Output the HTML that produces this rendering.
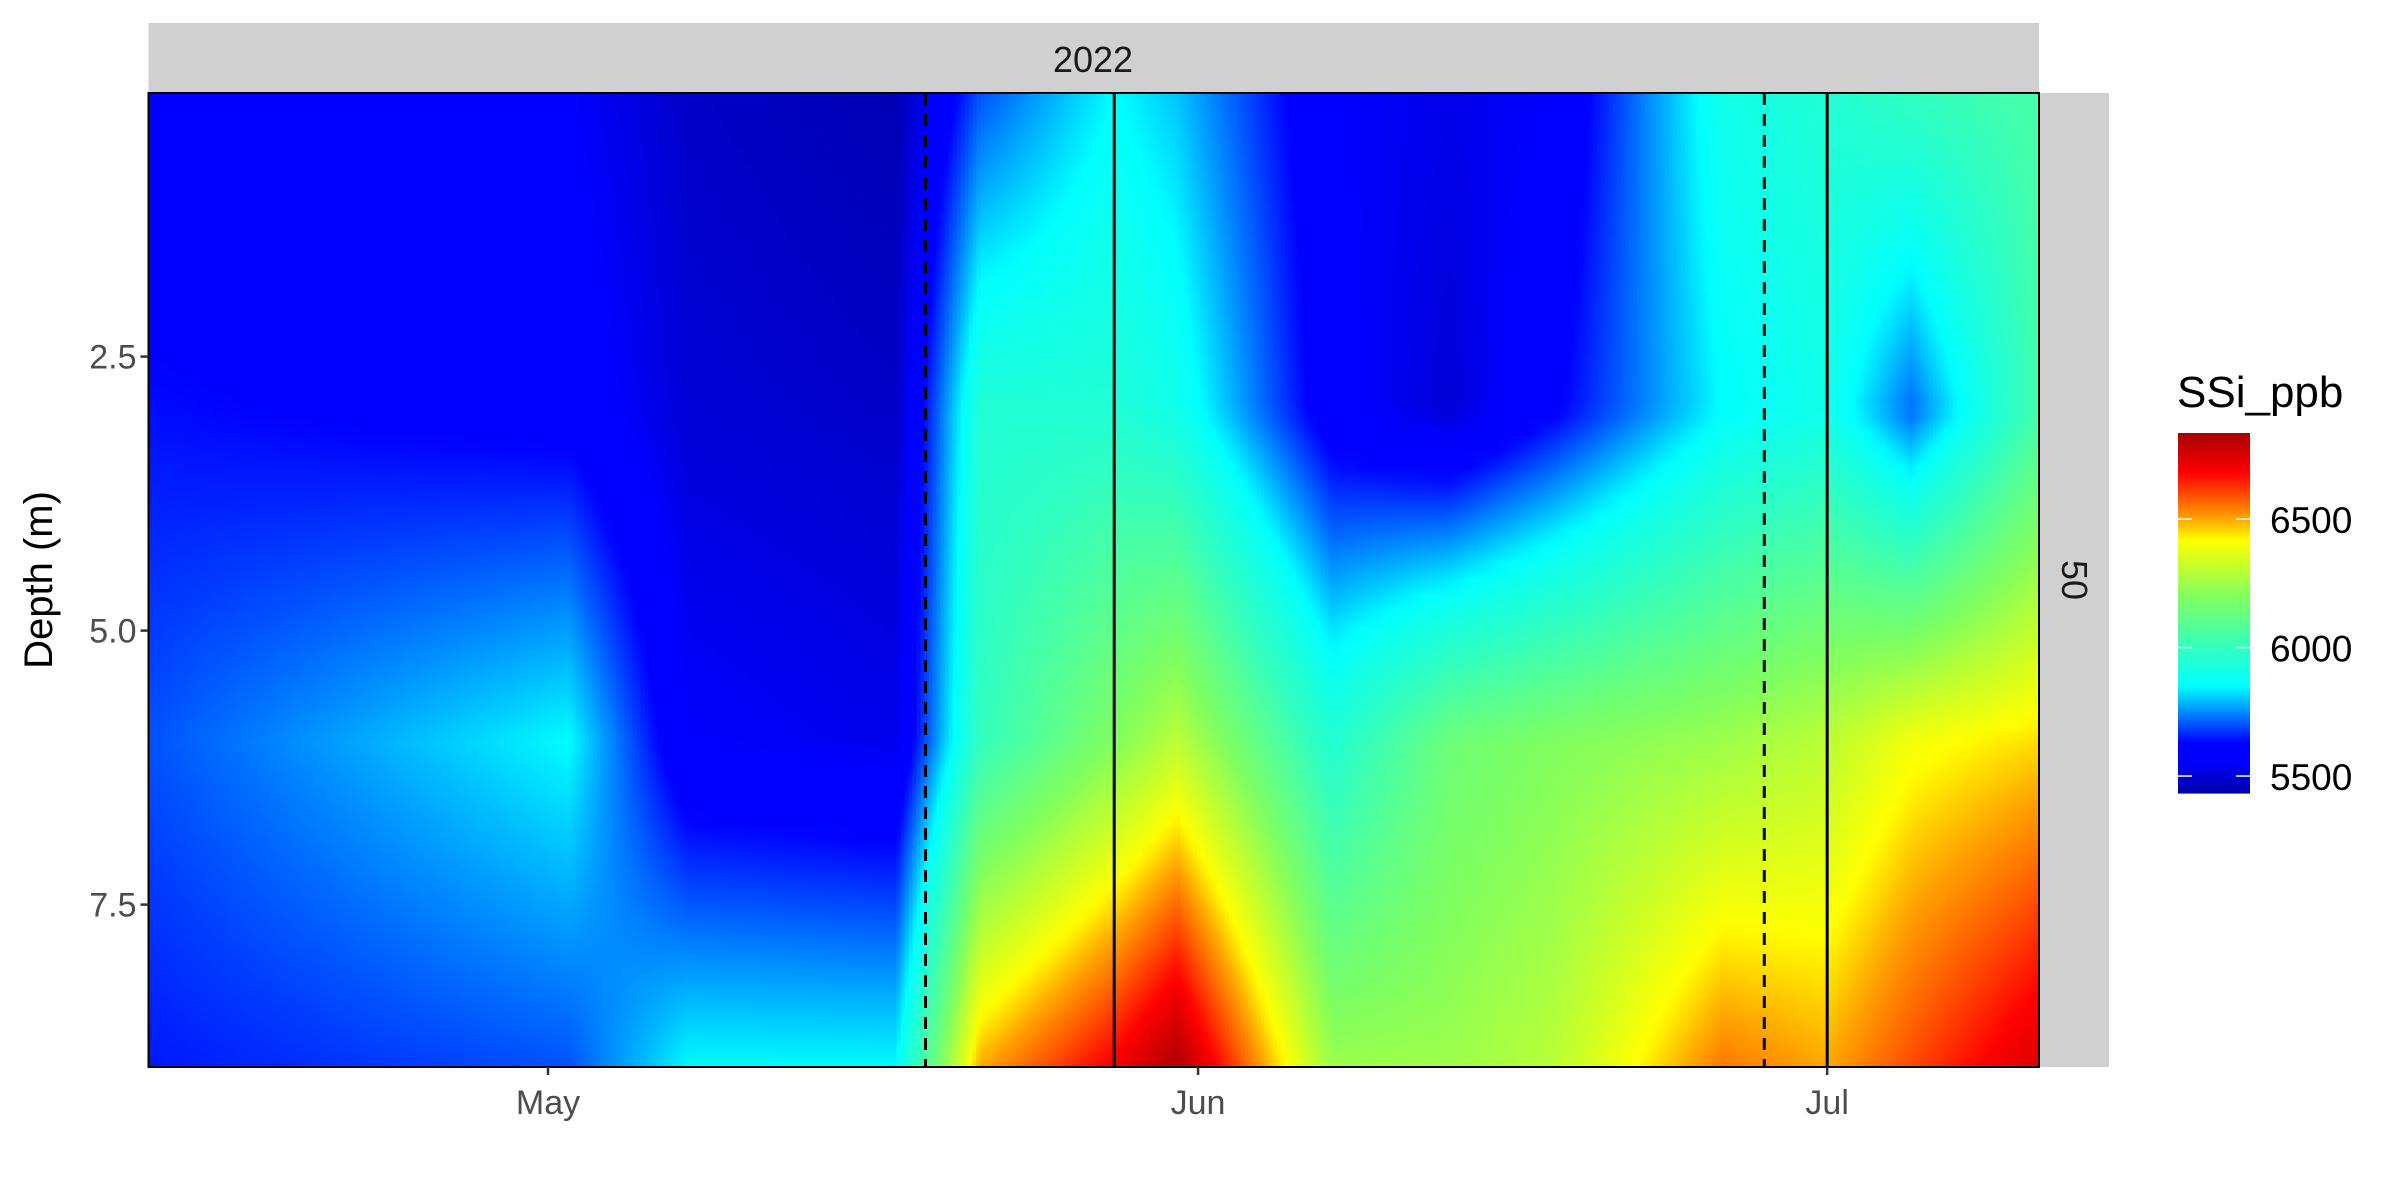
<!DOCTYPE html>
<html><head><meta charset="utf-8"><style>
body{margin:0;background:#fff;}
svg{display:block;font-family:"Liberation Sans",Arial,sans-serif;}
</style></head><body>
<svg id="chart" width="2400" height="1200" viewBox="0 0 2400 1200" xmlns="http://www.w3.org/2000/svg">
<defs id="defs"></defs>
<rect x="148.5" y="23" width="1890.5" height="70" fill="#d0d0d0"/>
<text x="1093" y="72" font-size="36" text-anchor="middle" fill="#1a1a1a">2022</text>
<rect x="2039" y="93" width="70" height="974" fill="#d0d0d0"/>
<text x="2062" y="580" font-size="36" text-anchor="middle" fill="#1a1a1a" transform="rotate(90 2062 580)">50</text>
<g id="field"></g>
<g id="vlines"></g>
<rect x="148.5" y="93" width="1890.5" height="974" fill="none" stroke="#000" stroke-width="2"/>
<g id="axes"></g>
<text x="52" y="580" font-size="40" text-anchor="middle" fill="#000" transform="rotate(-90 52 580)">Depth (m)</text>
<text x="2177" y="407" font-size="44" fill="#000">SSi_ppb</text>
<g id="legend"></g>
</svg>
<script>
// data: days since May 1 2022, depths (m), values per column (rows = depths)
const sampleDays = [-19, 1, 6.7, 16.6, 20.6, 27, 30, 37.4, 43, 48, 56, 61, 65, 71.1];
const sampleDepths = [0.1, 3.0, 6.0, 9.0];
const ssiValues = [
  [5580, 5640, 5700, 5650],
  [5560, 5600, 5850, 5700],
  [5480, 5500, 5560, 5850],
  [5450, 5480, 5530, 5850],
  [5700, 5950, 6000, 6500],
  [5850, 5950, 6200, 6700],
  [5800, 5900, 6300, 6830],
  [5560, 5580, 5950, 6250],
  [5530, 5500, 6150, 6250],
  [5560, 5620, 6200, 6300],
  [5900, 5850, 6250, 6550],
  [5950, 5900, 6300, 6500],
  [6000, 5720, 6400, 6600],
  [6050, 6050, 6450, 6750]
];
const xTickLabels = ["May", "Jun", "Jul"];
const xTickDays = [0, 31, 61];
const yTicks = [2.5, 5.0, 7.5];
const yTickLabels = ["2.5", "5.0", "7.5"];
const dashedDays = [18, 58];
const solidDays = [27, 61];
const legendTicks = [5500, 6000, 6500];
const colorMin = 5434, colorMax = 6835;

const NS = "http://www.w3.org/2000/svg";
const PX0 = 148.5, PX1 = 2039, PY0 = 93, PY1 = 1067;
const xDay = d => 548 + d * 20.97;
const yDepth = z => 356.6 + (z - 2.5) * 109.6;
const dayX = x => (x - 548) / 20.97;
const depthY = y => 2.5 + (y - 356.6) / 109.6;

const stops = [[5434,[0,0,168]],[5560,[0,0,255]],[5630,[0,0,255]],[5850,[0,255,255]],[6000,[50,255,192]],[6200,[128,255,96]],[6420,[255,255,0]],[6500,[255,165,0]],[6680,[255,0,0]],[6835,[168,0,0]]];
function color(v){
  v = Math.max(colorMin, Math.min(colorMax, v));
  for (let i=0;i<stops.length-1;i++){
    const a=stops[i], b=stops[i+1];
    if (v<=b[0]){
      const t=(v-a[0])/(b[0]-a[0]||1);
      const c=a[1].map((ca,k)=>Math.round(ca+(b[1][k]-ca)*t));
      return `rgb(${c[0]},${c[1]},${c[2]})`;
    }
  }
  return "rgb(168,0,0)";
}
function interp1(xs, x){
  if (x<=xs[0]) return [0,0];
  for (let i=0;i<xs.length-1;i++) if (x<=xs[i+1]) return [i,(x-xs[i])/(xs[i+1]-xs[i])];
  return [xs.length-2,1];
}
function value(day, depth){
  const [i,tx]=interp1(sampleDays,day);
  const [j,ty]=interp1(sampleDepths,depth);
  const v00=ssiValues[i][j], v01=ssiValues[i][j+1], v10=ssiValues[i+1][j], v11=ssiValues[i+1][j+1];
  return (v00*(1-ty)+v01*ty)*(1-tx)+(v10*(1-ty)+v11*ty)*tx;
}

const defs=document.getElementById('defs');
const field=document.getElementById('field');
const SW=4, NST=60;
for (let x=PX0, k=0; x<PX1; x+=SW, k++){
  const day=dayX(x+SW/2);
  const g=document.createElementNS(NS,'linearGradient');
  g.setAttribute('id','g'+k);
  g.setAttribute('x1','0');g.setAttribute('y1','0');g.setAttribute('x2','0');g.setAttribute('y2','1');
  for (let s=0;s<=NST;s++){
    const y=PY0+(PY1-PY0)*s/NST;
    const st=document.createElementNS(NS,'stop');
    st.setAttribute('offset',(s/NST).toFixed(4));
    st.setAttribute('stop-color',color(value(day,depthY(y))));
    g.appendChild(st);
  }
  defs.appendChild(g);
  const r=document.createElementNS(NS,'rect');
  r.setAttribute('x',x);r.setAttribute('y',PY0);
  r.setAttribute('width',Math.min(SW+0.6,PX1-x));r.setAttribute('height',PY1-PY0);
  r.setAttribute('fill',`url(#g${k})`);
  
  
  field.appendChild(r);
}

const vl=document.getElementById('vlines');
function vline(d,dash,name){
  const l=document.createElementNS(NS,'line');
  const x=xDay(d);
  l.setAttribute('x1',x);l.setAttribute('x2',x);l.setAttribute('y1',PY0);l.setAttribute('y2',PY1);
  l.setAttribute('stroke','#000');l.setAttribute('stroke-width','3');
  if(dash) l.setAttribute('stroke-dasharray','12 9');
  
  
  vl.appendChild(l);
}
dashedDays.forEach(d=>vline(d,true,'dashed-event-line'));
solidDays.forEach(d=>vline(d,false,'solid-event-line'));

const ax=document.getElementById('axes');
xTickDays.forEach((d,i)=>{
  const x=xDay(d);
  const t=document.createElementNS(NS,'line');
  t.setAttribute('x1',x);t.setAttribute('x2',x);t.setAttribute('y1',PY1);t.setAttribute('y2',PY1+8);
  t.setAttribute('stroke','#333');t.setAttribute('stroke-width','2.5');
  
  
  ax.appendChild(t);
  const tx=document.createElementNS(NS,'text');
  tx.setAttribute('x',x);tx.setAttribute('y',1114);tx.setAttribute('font-size','34');
  tx.setAttribute('text-anchor','middle');tx.setAttribute('fill','#4d4d4d');
  tx.textContent=xTickLabels[i];
  
  
  ax.appendChild(tx);
});
yTicks.forEach((z,i)=>{
  const y=yDepth(z);
  const t=document.createElementNS(NS,'line');
  t.setAttribute('x1',PX0-8);t.setAttribute('x2',PX0);t.setAttribute('y1',y);t.setAttribute('y2',y);
  t.setAttribute('stroke','#333');t.setAttribute('stroke-width','2.5');
  
  
  ax.appendChild(t);
  const tx=document.createElementNS(NS,'text');
  tx.setAttribute('x',PX0-12);tx.setAttribute('y',y+12);tx.setAttribute('font-size','34');
  tx.setAttribute('text-anchor','end');tx.setAttribute('fill','#4d4d4d');
  tx.textContent=yTickLabels[i];
  
  
  ax.appendChild(tx);
});

const lg=document.getElementById('legend');
const LX=2178, LW=72, LY0=433, LY1=793;
const lv=v=>LY1-(v-colorMin)/(colorMax-colorMin)*(LY1-LY0);
for(let y=LY0;y<LY1;y+=2){
  const r=document.createElementNS(NS,'rect');
  r.setAttribute('x',LX);r.setAttribute('y',y);r.setAttribute('width',LW);r.setAttribute('height',2.6);
  r.setAttribute('fill',color(colorMin+(LY1-y-1)/(LY1-LY0)*(colorMax-colorMin)));
  
  
  lg.appendChild(r);
}
legendTicks.forEach(v=>{
  const y=lv(v);
  [[LX,LX+14],[LX+LW-14,LX+LW]].forEach(p=>{
    const t=document.createElementNS(NS,'line');
    t.setAttribute('x1',p[0]);t.setAttribute('x2',p[1]);t.setAttribute('y1',y);t.setAttribute('y2',y);
    t.setAttribute('stroke','#fff');t.setAttribute('stroke-width','1.5');
    
    
    lg.appendChild(t);
  });
  const tx=document.createElementNS(NS,'text');
  tx.setAttribute('x',2270);tx.setAttribute('y',y+14);tx.setAttribute('font-size','37');tx.setAttribute('fill','#000');
  tx.textContent=String(v);
  
  
  lg.appendChild(tx);
});
</script>
</body></html>
